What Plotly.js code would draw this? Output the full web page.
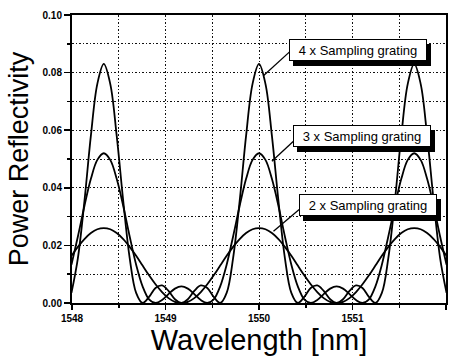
<!DOCTYPE html>
<html>
<head>
<meta charset="utf-8">
<script src="https://cdn.plot.ly/plotly-3.0.1.min.js"></script>
<style>html,body{margin:0;padding:0;background:#fff;}#chart{width:457px;height:356px;}</style>
</head>
<body>
<div id="chart"></div>
<script>
// Wavelength samples [nm]
var wavelength = [1547.994, 1548.063, 1548.133, 1548.202, 1548.271, 1548.340, 1548.409, 1548.478, 1548.548, 1548.617,
  1548.686, 1548.755, 1548.824, 1548.893, 1548.963, 1549.032, 1549.101, 1549.170, 1549.239, 1549.308,
  1549.378, 1549.447, 1549.516, 1549.585, 1549.654, 1549.723, 1549.793, 1549.862, 1549.931, 1550.000,
  1550.069, 1550.138, 1550.208, 1550.277, 1550.346, 1550.415, 1550.484, 1550.553, 1550.623, 1550.692,
  1550.761, 1550.830, 1550.899, 1550.968, 1551.038, 1551.107, 1551.176, 1551.245, 1551.314, 1551.383,
  1551.453, 1551.522, 1551.591, 1551.660, 1551.729, 1551.798, 1551.868, 1551.937, 1552.006];

// 4 x Sampling grating
var refl4x = [0.0035, 0.0156, 0.0354, 0.0581, 0.0761, 0.0830,
  0.0761, 0.0581, 0.0354, 0.0156, 0.0035, 0.0000, 0.0021, 0.0052, 0.0061, 0.0042, 0.0013, 0.0000,
  0.0013, 0.0042, 0.0061, 0.0052, 0.0021, 0.0000, 0.0035, 0.0156, 0.0354, 0.0581, 0.0761, 0.0830,
  0.0761, 0.0581, 0.0354, 0.0156, 0.0035, 0.0000, 0.0021, 0.0052, 0.0061, 0.0042, 0.0013, 0.0000,
  0.0013, 0.0042, 0.0061, 0.0052, 0.0021, 0.0000, 0.0035, 0.0156, 0.0354, 0.0581, 0.0761, 0.0830,
  0.0761, 0.0581, 0.0354, 0.0156, 0.0035];

// 3 x Sampling grating
var refl3x = [0.0133, 0.0231, 0.0337, 0.0431, 0.0497, 0.0520,
  0.0497, 0.0431, 0.0337, 0.0231, 0.0133, 0.0058, 0.0013, 0.0000, 0.0010, 0.0031, 0.0050, 0.0058,
  0.0050, 0.0031, 0.0010, 0.0000, 0.0013, 0.0058, 0.0133, 0.0231, 0.0337, 0.0431, 0.0497, 0.0520,
  0.0497, 0.0431, 0.0337, 0.0231, 0.0133, 0.0058, 0.0013, 0.0000, 0.0010, 0.0031, 0.0050, 0.0058,
  0.0050, 0.0031, 0.0010, 0.0000, 0.0013, 0.0058, 0.0133, 0.0231, 0.0337, 0.0431, 0.0497, 0.0520,
  0.0497, 0.0431, 0.0337, 0.0231, 0.0133];

// 2 x Sampling grating
var refl2x = [0.0164, 0.0195, 0.0222, 0.0243, 0.0256, 0.0260,
  0.0256, 0.0243, 0.0222, 0.0195, 0.0164, 0.0130, 0.0096, 0.0065, 0.0038, 0.0017, 0.0004, 0.0000,
  0.0004, 0.0017, 0.0038, 0.0065, 0.0096, 0.0130, 0.0164, 0.0195, 0.0222, 0.0243, 0.0256, 0.0260,
  0.0256, 0.0243, 0.0222, 0.0195, 0.0164, 0.0130, 0.0096, 0.0065, 0.0038, 0.0017, 0.0004, 0.0000,
  0.0004, 0.0017, 0.0038, 0.0065, 0.0096, 0.0130, 0.0164, 0.0195, 0.0222, 0.0243, 0.0256, 0.0260,
  0.0256, 0.0243, 0.0222, 0.0195, 0.0164];

var seriesLabels = ['4 x Sampling grating', '3 x Sampling grating', '2 x Sampling grating'];

var xTickVals = [1548, 1549, 1550, 1551, 1552];
var xTickText = ['1548', '1549', '1550', '1551', '1552'];
var yTickVals = [0, 0.02, 0.04, 0.06, 0.08, 0.10];
var yTickText = ['0.00', '0.02', '0.04', '0.06', '0.08', '0.10'];

// label box centres and pointer lines (data units)
var labelX = [1551.057, 1551.105, 1551.164];
var labelY = [0.0878, 0.0579, 0.0340];
var pointerHeadX = [1550.050, 1550.138, 1550.155];
var pointerHeadY = [0.0790, 0.0492, 0.0249];
var pointerTailX = [1550.327, 1550.377, 1550.430];
var pointerTailY = [0.0872, 0.0564, 0.0325];

var seriesY = [refl4x, refl3x, refl2x];
var traces = seriesY.map(function (ys, i) {
  return {
    x: wavelength, y: ys, type: 'scatter', mode: 'lines', name: seriesLabels[i],
    line: {color: '#000', width: 1.8, shape: 'spline', smoothing: 1}
  };
});

var fontFam = '"Liberation Sans", Arial, Helvetica, sans-serif';
var annotations = [];
var shapes = [];
for (var i = 0; i < 3; i++) {
  var base = {
    x: labelX[i], y: labelY[i], xref: 'x', yref: 'y', showarrow: false,
    borderwidth: 1, borderpad: 2, width: 132, height: 16,
    font: {family: fontFam, size: 13, color: '#000'}, xanchor: 'center', yanchor: 'middle'
  };
  // drop shadow box (no text)
  annotations.push(Object.assign({}, base, {text: ' ', bgcolor: '#000', bordercolor: '#000', xshift: 4, yshift: -5}));
  annotations.push(Object.assign({}, base, {text: seriesLabels[i], bgcolor: '#fff', bordercolor: '#000'}));
  shapes.push({type: 'line', xref: 'x', yref: 'y', x0: pointerHeadX[i], y0: pointerHeadY[i],
    x1: pointerTailX[i], y1: pointerTailY[i], line: {color: '#000', width: 1.3}, layer: 'above'});
}

var gridCol = '#111';
var gridDash = '1.5px,2px';
var layout = {
  width: 457, height: 356,
  margin: {l: 72, r: 11, t: 15, b: 53, pad: 0},
  paper_bgcolor: '#fff', plot_bgcolor: '#fff',
  showlegend: false,
  font: {family: fontFam, color: '#000'},
  xaxis: {
    range: [1548, 1552], tickmode: 'array', tickvals: xTickVals, ticktext: xTickText,
    ticks: 'outside', ticklen: 5, tickwidth: 1.5, tickcolor: '#000',
    showline: true, linewidth: 2, linecolor: '#000', mirror: true, zeroline: false,
    showgrid: true, gridcolor: gridCol, griddash: gridDash, gridwidth: 1,
    tickfont: {family: fontFam, size: 10, weight: 'bold', color: '#000'},
    minor: {tickmode: 'linear', tick0: 1548, dtick: 0.5, ticks: 'outside', ticklen: 3, tickcolor: '#000',
      showgrid: true, gridcolor: gridCol, griddash: gridDash, gridwidth: 1},
    title: {text: 'Wavelength [nm]', font: {family: fontFam, size: 29, color: '#000'}, standoff: 3},
    automargin: false
  },
  yaxis: {
    range: [0, 0.1], tickmode: 'array', tickvals: yTickVals, ticktext: yTickText,
    ticks: 'outside', ticklen: 6, tickwidth: 1.5, tickcolor: '#000',
    showline: true, linewidth: 2, linecolor: '#000', mirror: true, zeroline: false,
    showgrid: true, gridcolor: gridCol, griddash: gridDash, gridwidth: 1,
    tickfont: {family: fontFam, size: 10, weight: 'bold', color: '#000'},
    minor: {tickmode: 'linear', tick0: 0, dtick: 0.01, ticks: 'outside', ticklen: 3, tickcolor: '#000',
      showgrid: true, gridcolor: gridCol, griddash: gridDash, gridwidth: 1},
    title: {text: 'Power Reflectivity', font: {family: fontFam, size: 27, color: '#000'}, standoff: 6},
    automargin: false
  },
  annotations: annotations,
  shapes: shapes
};

Plotly.newPlot('chart', traces, layout, {staticPlot: true, displayModeBar: false});
</script>
</body>
</html>
